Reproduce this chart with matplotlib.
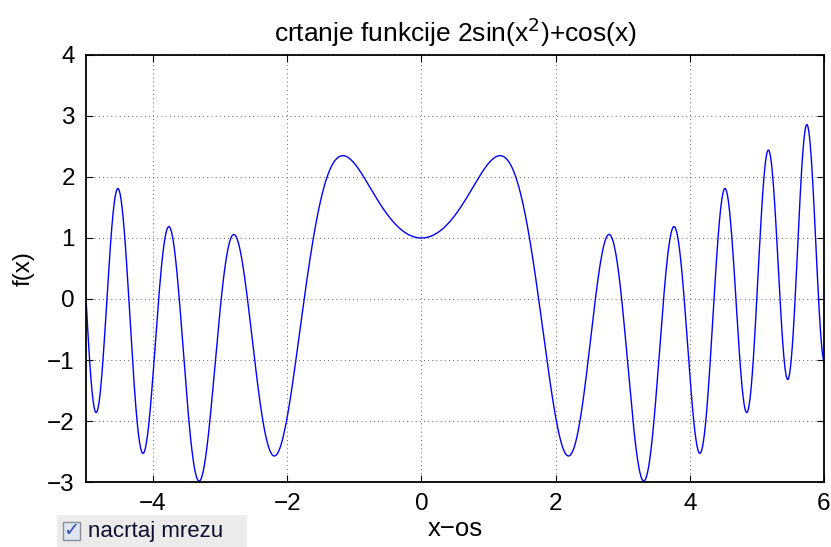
import numpy as np
import matplotlib.pyplot as plt
from matplotlib.patches import Rectangle

# function from the chart title: 2sin(x^2)+cos(x), sampled on the shown x range
x_min, x_max = -5, 6
x = np.linspace(x_min, x_max, 2000)
y = 2 * np.sin(x ** 2) + np.cos(x)

xticks = [-4, -2, 0, 2, 4, 6]
yticks = [-3, -2, -1, 0, 1, 2, 3, 4]
xtick_labels = ['\u22124', '\u22122', '0', '2', '4', '6']
ytick_labels = ['\u22123', '\u22122', '\u22121', '0', '1', '2', '3', '4']

plt.rcParams['font.family'] = ['Liberation Sans', 'DejaVu Sans']

fig = plt.figure(figsize=(8.31, 5.47), dpi=100)
ax = fig.add_axes([0.1035, 0.1188, 0.888, 0.7807])

ax.plot(x, y, color='#0000ff', linewidth=1.0)
ax.set_xlim(x_min, x_max)
ax.set_ylim(-3, 4)
ax.set_xticks(xticks)
ax.set_xticklabels(xtick_labels)
ax.set_yticks(yticks)
ax.set_yticklabels(ytick_labels)
ax.tick_params(direction='in', length=5, width=0.8, labelsize=17.5, pad=8,
               top=True, right=True)
ax.grid(True, color='black', linestyle=(0, (1, 4)), linewidth=0.6, alpha=0.8)
for s in ax.spines.values():
    s.set_linewidth(1.3)

ax.set_title('crtanje funkcije 2sin(x$^{2}$)+cos(x)', fontsize=19, pad=9)
ax.set_xlabel('x\u2212os', fontsize=18.5, labelpad=1)
ax.set_ylabel('f(x)', fontsize=17.5, labelpad=9)

# checkbox widget at bottom left
fig.patches.append(Rectangle((57 / 831, 0), 190 / 831, 32 / 547,
                             transform=fig.transFigure, facecolor='#ebebeb',
                             edgecolor='none'))
fig.patches.append(Rectangle((63 / 831, 7 / 547), 17 / 831, 18 / 547,
                             transform=fig.transFigure, facecolor='#dfe6f2',
                             edgecolor='#8a8f99', linewidth=1))
fig.text(71.5 / 831, 16 / 547, '\u2713', color='#3050c0', fontsize=14,
         ha='center', va='center', family='DejaVu Sans', fontweight='bold')
fig.text(88 / 831, 16 / 547, 'nacrtaj mrezu', fontsize=16, color='#101030',
         ha='left', va='center')

fig.savefig('out.png', dpi=100)
